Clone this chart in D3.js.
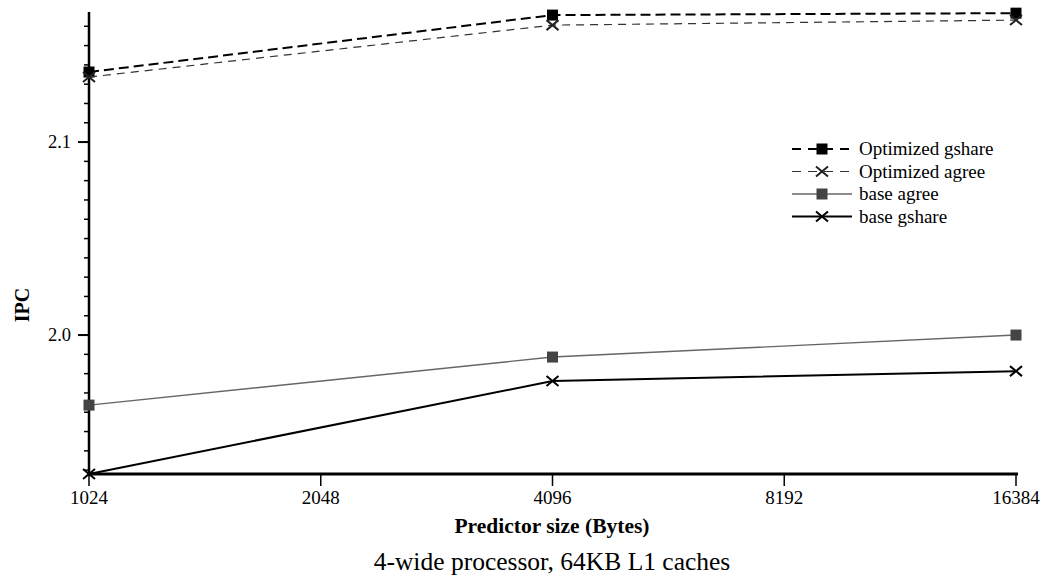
<!DOCTYPE html>
<html>
<head>
<meta charset="utf-8">
<style>
body { margin: 0; background: #fff; }
text { font-family: "Liberation Serif", "Times New Roman", serif; fill: #000; }
</style>
</head>
<body>
<svg width="1042" height="575"></svg>
<script src="https://cdn.jsdelivr.net/npm/d3@7"></script>
<script>

var sizes = [1024, 4096, 16384];
var tickSizes = [1024, 2048, 4096, 8192, 16384];

var optGshare = [2.1363, 2.1658, 2.1668];
var optAgree  = [2.1337, 2.1606, 2.1632];
var baseAgree = [1.9637, 1.9886, 2.0000];
var baseGshare = [1.9280, 1.9762, 1.9813];

var series = [
  { name: "Optimized gshare", values: optGshare, color: "#000", width: 2, dash: "10,5", marker: "square", mcolor: "#000" },
  { name: "Optimized agree", values: optAgree, color: "#333", width: 1.2, dash: "8,6", marker: "cross", mcolor: "#222" },
  { name: "base agree", values: baseAgree, color: "#666", width: 1.4, dash: null, marker: "square", mcolor: "#444" },
  { name: "base gshare", values: baseGshare, color: "#000", width: 2, dash: null, marker: "cross", mcolor: "#000" }
];

var svg = d3.select("svg");

var x = d3.scaleLog().base(2).domain([1024, 16384]).range([89, 1016]);
var y = d3.scaleLinear().domain([1.928, 2.1674]).range([474, 12]);

// y axis
var yAxis = svg.append("g");
yAxis.append("line")
  .attr("x1", 89).attr("x2", 89).attr("y1", 12).attr("y2", 476)
  .attr("stroke", "#000").attr("stroke-width", 2.5);

var minor = d3.range(193, 217).map(function(d) { return d / 100; })
  .filter(function(d) { return d <= 2.167; });
yAxis.selectAll("line.minor").data(minor).enter().append("line")
  .attr("class", "minor")
  .attr("x1", 84).attr("x2", 89)
  .attr("y1", function(d) { return y(d); }).attr("y2", function(d) { return y(d); })
  .attr("stroke", "#000").attr("stroke-width", 1.5);

var major = [2.0, 2.1];
yAxis.selectAll("line.major").data(major).enter().append("line")
  .attr("class", "major")
  .attr("x1", 78).attr("x2", 89)
  .attr("y1", function(d) { return y(d); }).attr("y2", function(d) { return y(d); })
  .attr("stroke", "#000").attr("stroke-width", 2);
yAxis.selectAll("text").data(major).enter().append("text")
  .attr("x", 71).attr("y", function(d) { return y(d) + 6; })
  .attr("text-anchor", "end").attr("font-size", 18.5)
  .text(function(d) { return d.toFixed(1); });

// x axis
var xAxis = svg.append("g");
xAxis.append("line")
  .attr("x1", 87).attr("x2", 1018).attr("y1", 474).attr("y2", 474)
  .attr("stroke", "#000").attr("stroke-width", 3);
xAxis.selectAll("line.tick").data(tickSizes).enter().append("line")
  .attr("class", "tick")
  .attr("x1", function(d) { return x(d); }).attr("x2", function(d) { return x(d); })
  .attr("y1", 474).attr("y2", 486)
  .attr("stroke", "#000").attr("stroke-width", 1.5);
xAxis.selectAll("text").data(tickSizes).enter().append("text")
  .attr("x", function(d) { return x(d); }).attr("y", 504)
  .attr("text-anchor", "middle").attr("font-size", 19)
  .text(function(d) { return d; });

svg.append("text")
  .attr("x", 552).attr("y", 533)
  .attr("text-anchor", "middle").attr("font-size", 21.5).attr("font-weight", "bold")
  .text("Predictor size (Bytes)");

svg.append("text")
  .attr("x", 552).attr("y", 570)
  .attr("text-anchor", "middle").attr("font-size", 25.5)
  .text("4-wide processor, 64KB L1 caches");

svg.append("text")
  .attr("transform", "translate(29,305) rotate(-90)")
  .attr("text-anchor", "middle").attr("font-size", 20).attr("font-weight", "bold")
  .text("IPC");

// lines
var line = d3.line()
  .x(function(d, i) { return x(sizes[i]); })
  .y(function(d) { return y(d); });

function drawMarker(g, type, cx, cy, color) {
  if (type === "square") {
    g.append("rect")
      .attr("x", cx - 5.5).attr("y", cy - 5.5).attr("width", 11).attr("height", 11)
      .attr("fill", color);
  } else {
    g.append("path")
      .attr("d", "M" + (cx - 6) + "," + (cy - 5) + "L" + (cx + 6) + "," + (cy + 5) +
                 "M" + (cx - 6) + "," + (cy + 5) + "L" + (cx + 6) + "," + (cy - 5))
      .attr("stroke", color).attr("stroke-width", 2).attr("fill", "none");
  }
}

series.forEach(function(s) {
  var g = svg.append("g");
  g.append("path")
    .datum(s.values)
    .attr("d", line)
    .attr("fill", "none")
    .attr("stroke", s.color)
    .attr("stroke-width", s.width)
    .attr("stroke-dasharray", s.dash);
  s.values.forEach(function(v, i) {
    drawMarker(g, s.marker, x(sizes[i]), y(v), s.mcolor);
  });
});

// legend
var legend = svg.append("g").attr("transform", "translate(792,149)");
series.forEach(function(s, i) {
  var g = legend.append("g").attr("transform", "translate(0," + (i * 22.5) + ")");
  g.append("line")
    .attr("x1", 0).attr("x2", 60).attr("y1", 0).attr("y2", 0)
    .attr("stroke", s.color).attr("stroke-width", s.width)
    .attr("stroke-dasharray", s.dash ? "9,7" : null);
  drawMarker(g, s.marker, 30, 0, s.mcolor);
  g.append("text")
    .attr("x", 67).attr("y", 6)
    .attr("font-size", 19)
    .text(s.name);
});

</script>
</body>
</html>
